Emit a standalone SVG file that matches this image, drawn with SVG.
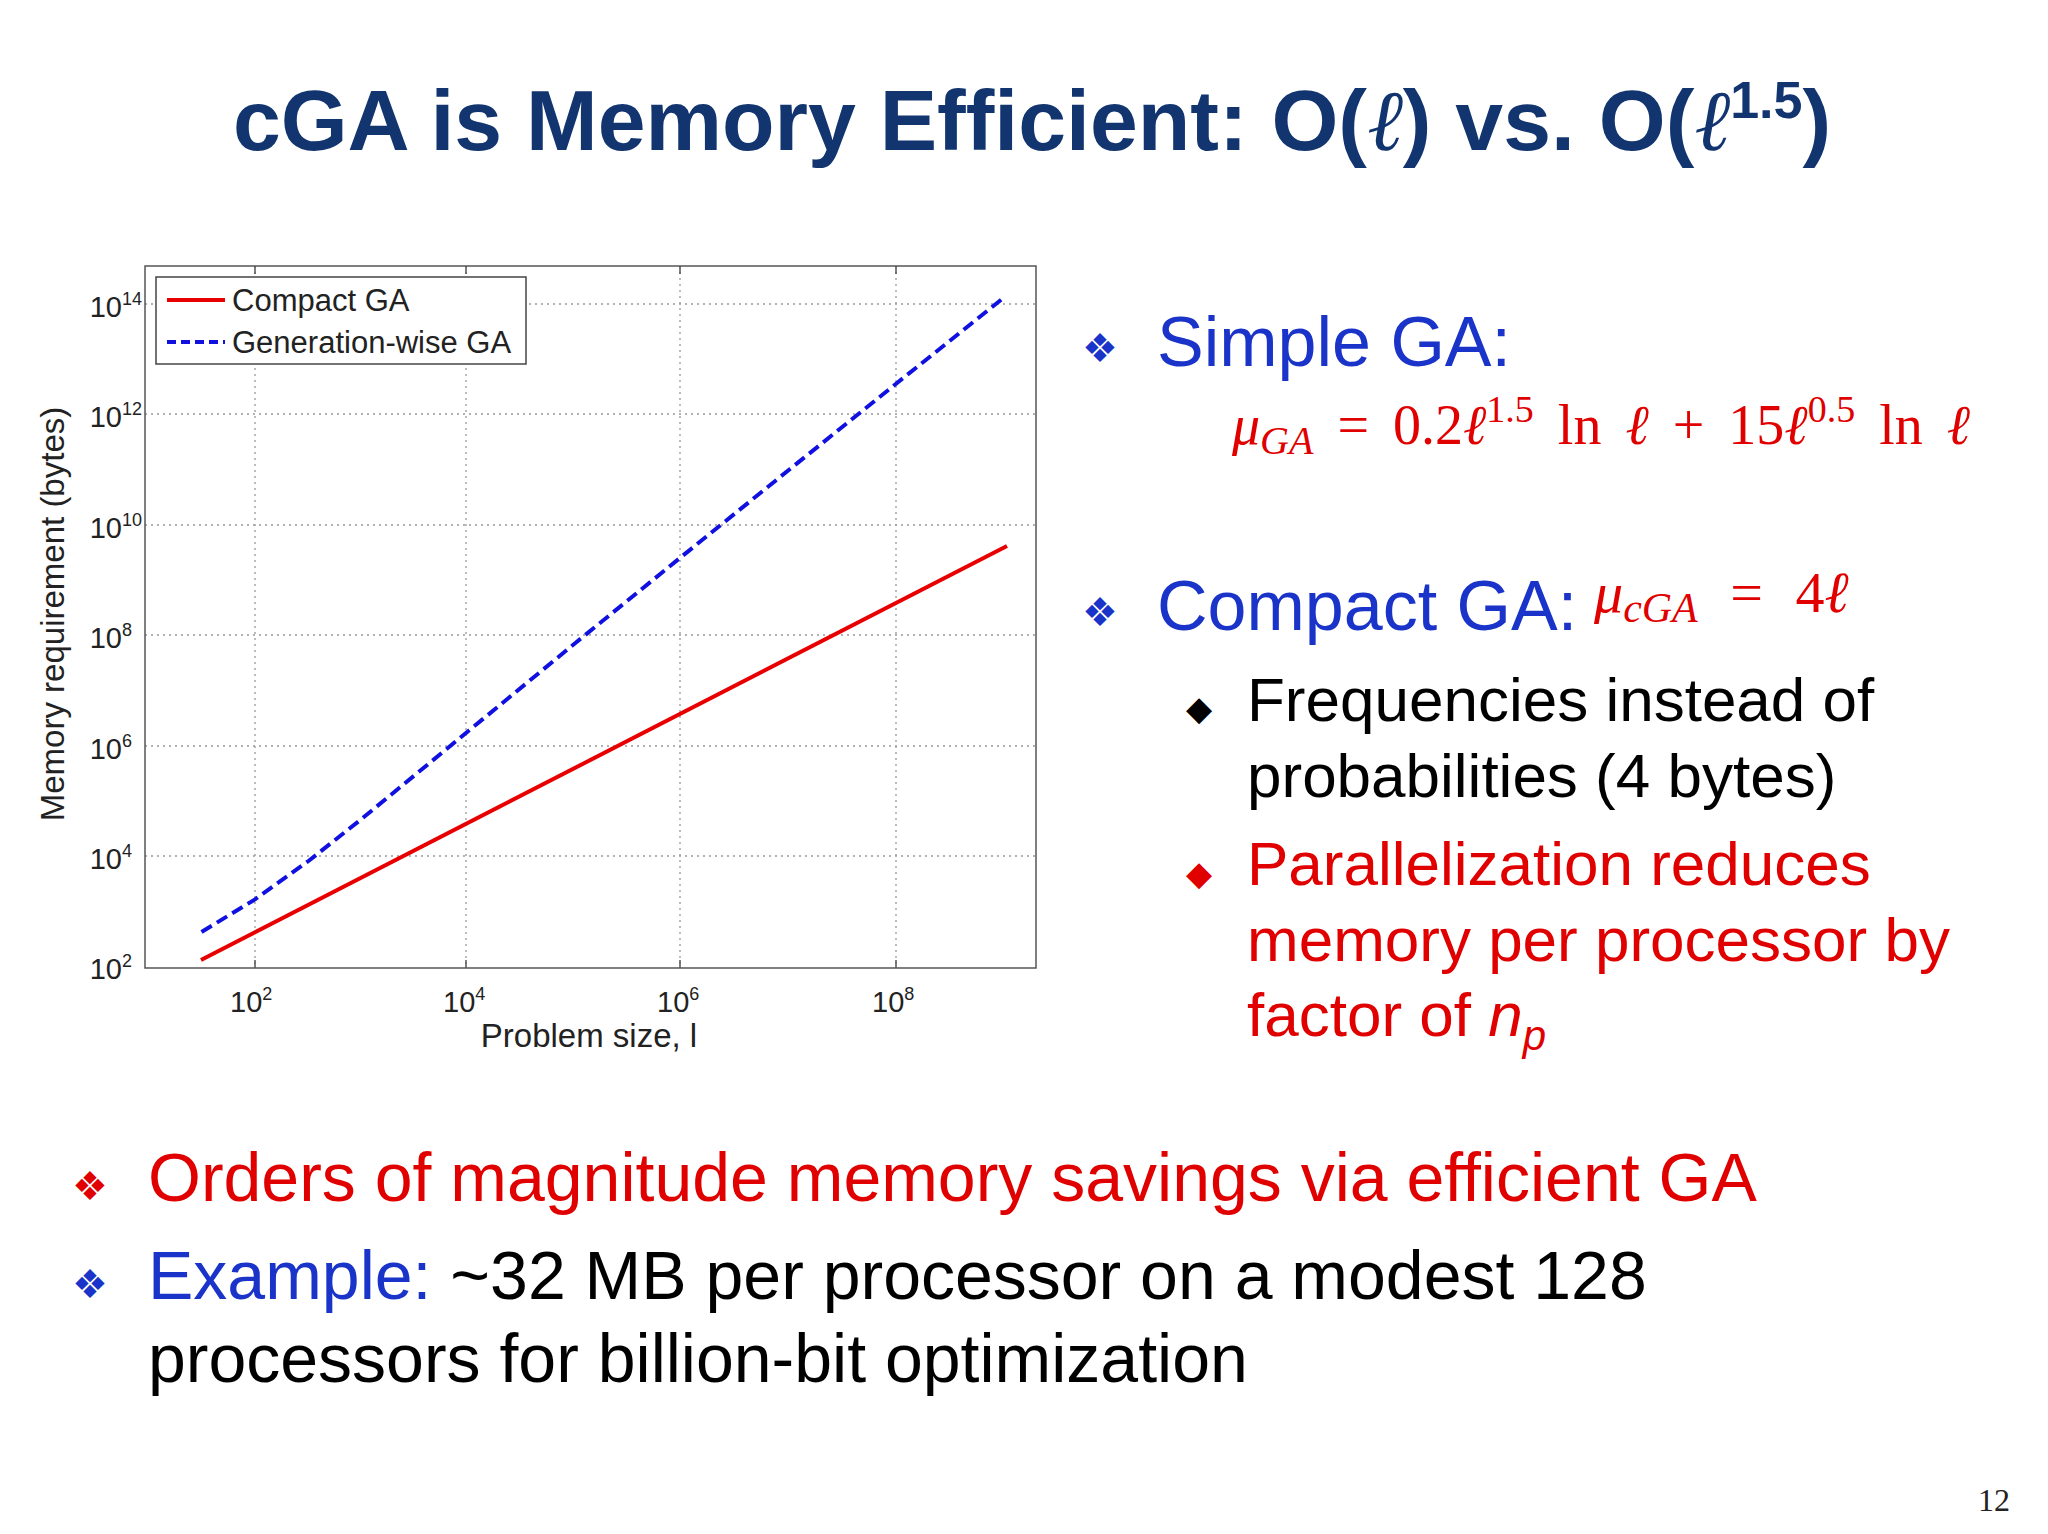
<svg xmlns="http://www.w3.org/2000/svg" width="2048" height="1534" viewBox="0 0 2048 1534">
<style>
.s{font-family:"Liberation Sans",Arial,sans-serif}
.m{font-family:"Liberation Serif","Times New Roman",serif}
.tk{font-family:"Liberation Sans",Arial,sans-serif;font-size:29px;fill:#222}
.grid{stroke:#999;stroke-width:1.3;stroke-dasharray:2 4}
</style>
<rect width="2048" height="1534" fill="#fff"/>
<g id="title"><text class="s" x="1032" y="150" text-anchor="middle" font-size="86" font-weight="bold" fill="#123570">cGA is Memory Efficient: O(<tspan class="m" font-style="italic" font-weight="normal">ℓ</tspan>) vs. O(<tspan class="m" font-style="italic" font-weight="normal">ℓ</tspan><tspan dy="-32" font-size="52">1.5</tspan><tspan dy="32">)</tspan></text></g>
<g id="plot">
<g class="grid">
<line x1="255" y1="266" x2="255" y2="968"/><line x1="466" y1="266" x2="466" y2="968"/><line x1="680" y1="266" x2="680" y2="968"/><line x1="896" y1="266" x2="896" y2="968"/>
<line x1="145" y1="304" x2="1036" y2="304"/><line x1="145" y1="414" x2="1036" y2="414"/><line x1="145" y1="525" x2="1036" y2="525"/><line x1="145" y1="635" x2="1036" y2="635"/><line x1="145" y1="746" x2="1036" y2="746"/><line x1="145" y1="856" x2="1036" y2="856"/>
</g>
<rect x="145" y="266" width="891" height="702" fill="none" stroke="#555" stroke-width="1.5"/>
<g stroke="#555" stroke-width="1.5">
<line x1="255" y1="968" x2="255" y2="960"/><line x1="466" y1="968" x2="466" y2="960"/><line x1="680" y1="968" x2="680" y2="960"/><line x1="896" y1="968" x2="896" y2="960"/>
<line x1="255" y1="266" x2="255" y2="274"/><line x1="466" y1="266" x2="466" y2="274"/><line x1="680" y1="266" x2="680" y2="274"/><line x1="896" y1="266" x2="896" y2="274"/>
</g>
<g class="tk" text-anchor="end">
<text x="142" y="317">10<tspan dy="-12" font-size="18">14</tspan></text>
<text x="142" y="427">10<tspan dy="-12" font-size="18">12</tspan></text>
<text x="142" y="538">10<tspan dy="-12" font-size="18">10</tspan></text>
<text x="132" y="648">10<tspan dy="-12" font-size="18">8</tspan></text>
<text x="132" y="759">10<tspan dy="-12" font-size="18">6</tspan></text>
<text x="132" y="869">10<tspan dy="-12" font-size="18">4</tspan></text>
<text x="132" y="979">10<tspan dy="-12" font-size="18">2</tspan></text>
</g>
<g class="tk">
<text x="230" y="1012">10<tspan dy="-12" font-size="18">2</tspan></text>
<text x="443" y="1012">10<tspan dy="-12" font-size="18">4</tspan></text>
<text x="657" y="1012">10<tspan dy="-12" font-size="18">6</tspan></text>
<text x="872" y="1012">10<tspan dy="-12" font-size="18">8</tspan></text>
</g>
<text class="s" x="589" y="1047" text-anchor="middle" font-size="33" fill="#222">Problem size, l</text>
<text class="s" transform="translate(64,614) rotate(-90)" text-anchor="middle" font-size="33" fill="#222">Memory requirement (bytes)</text>
</g>
<g id="connectors">
<polyline points="201.5,932 255,899.4 308.5,861 362,818.6 469,730.5 576,642.5 683,555.5 790,469 897,383 1004,297.5" fill="none" stroke="#1010e0" stroke-width="4" stroke-dasharray="12 6"/>
<line x1="201" y1="960" x2="1007" y2="546" stroke="#e80000" stroke-width="4"/>
</g>
<g id="legend">
<rect x="156" y="277" width="370" height="87" fill="#fff" stroke="#444" stroke-width="1.5"/>
<line x1="167" y1="300" x2="225" y2="300" stroke="#e80000" stroke-width="4"/>
<line x1="167" y1="342" x2="225" y2="342" stroke="#1010e0" stroke-width="4" stroke-dasharray="9 5"/>
<text class="s" x="232" y="311" font-size="31" fill="#222">Compact GA</text>
<text class="s" x="232" y="353" font-size="31" fill="#222">Generation-wise GA</text>
</g>
<g id="simple">
<text class="s" x="1082" y="362" font-size="40" fill="#1a33c8">❖</text>
<text class="s" x="1157" y="366" font-size="70" fill="#1a33c8">Simple GA:</text>
<text class="m" x="1232" y="444" font-size="56" fill="#e00000" word-spacing="10"><tspan font-style="italic">μ</tspan><tspan font-style="italic" font-size="40" dy="10">GA</tspan><tspan dy="-10"> = 0.2</tspan><tspan font-style="italic">ℓ</tspan><tspan font-size="38" dy="-22">1.5</tspan><tspan dy="22"> ln </tspan><tspan font-style="italic">ℓ</tspan> + 15<tspan font-style="italic">ℓ</tspan><tspan font-size="38" dy="-22">0.5</tspan><tspan dy="22"> ln </tspan><tspan font-style="italic">ℓ</tspan></text>
</g>
<g id="compact">
<text class="s" x="1082" y="626" font-size="40" fill="#1a33c8">❖</text>
<text class="s" x="1157" y="630" font-size="70" fill="#1a33c8">Compact GA:</text>
<text class="m" x="1594" y="612" font-size="58" fill="#e00000" word-spacing="18"><tspan font-style="italic">μ</tspan><tspan font-style="italic" font-size="42" dy="10">cGA</tspan><tspan dy="-10"> = 4</tspan><tspan font-style="italic">ℓ</tspan></text>
</g>
<g id="freq">
<text class="s" x="1186" y="720" font-size="34" fill="#000">◆</text>
<text class="s" x="1247" y="721" font-size="62" fill="#000">Frequencies instead of</text>
<text class="s" x="1247" y="797" font-size="62" fill="#000">probabilities (4 bytes)</text>
</g>
<g id="parallel">
<text class="s" x="1186" y="885" font-size="34" fill="#e00000">◆</text>
<text class="s" x="1247" y="885" font-size="62" fill="#e00000">Parallelization reduces</text>
<text class="s" x="1247" y="961" font-size="62" fill="#e00000">memory per processor by</text>
<text class="s" x="1247" y="1036" font-size="62" fill="#e00000">factor of <tspan font-style="italic">n</tspan><tspan font-style="italic" font-size="42" dy="14">p</tspan></text>
</g>
<g id="bottom">
<text class="s" x="72" y="1200" font-size="40" fill="#e00000">❖</text>
<text class="s" x="148" y="1201" font-size="68" fill="#e00000">Orders of magnitude memory savings via efficient GA</text>
<text class="s" x="72" y="1298" font-size="40" fill="#1a33c8">❖</text>
<text class="s" x="148" y="1299" font-size="68" fill="#000"><tspan fill="#1a33c8">Example:</tspan> ~32 MB per processor on a modest 128</text>
<text class="s" x="148" y="1382" font-size="68" fill="#000">processors for billion-bit optimization</text>
</g>
<text class="m" x="2010" y="1511" text-anchor="end" font-size="32" fill="#222">12</text>
</svg>
